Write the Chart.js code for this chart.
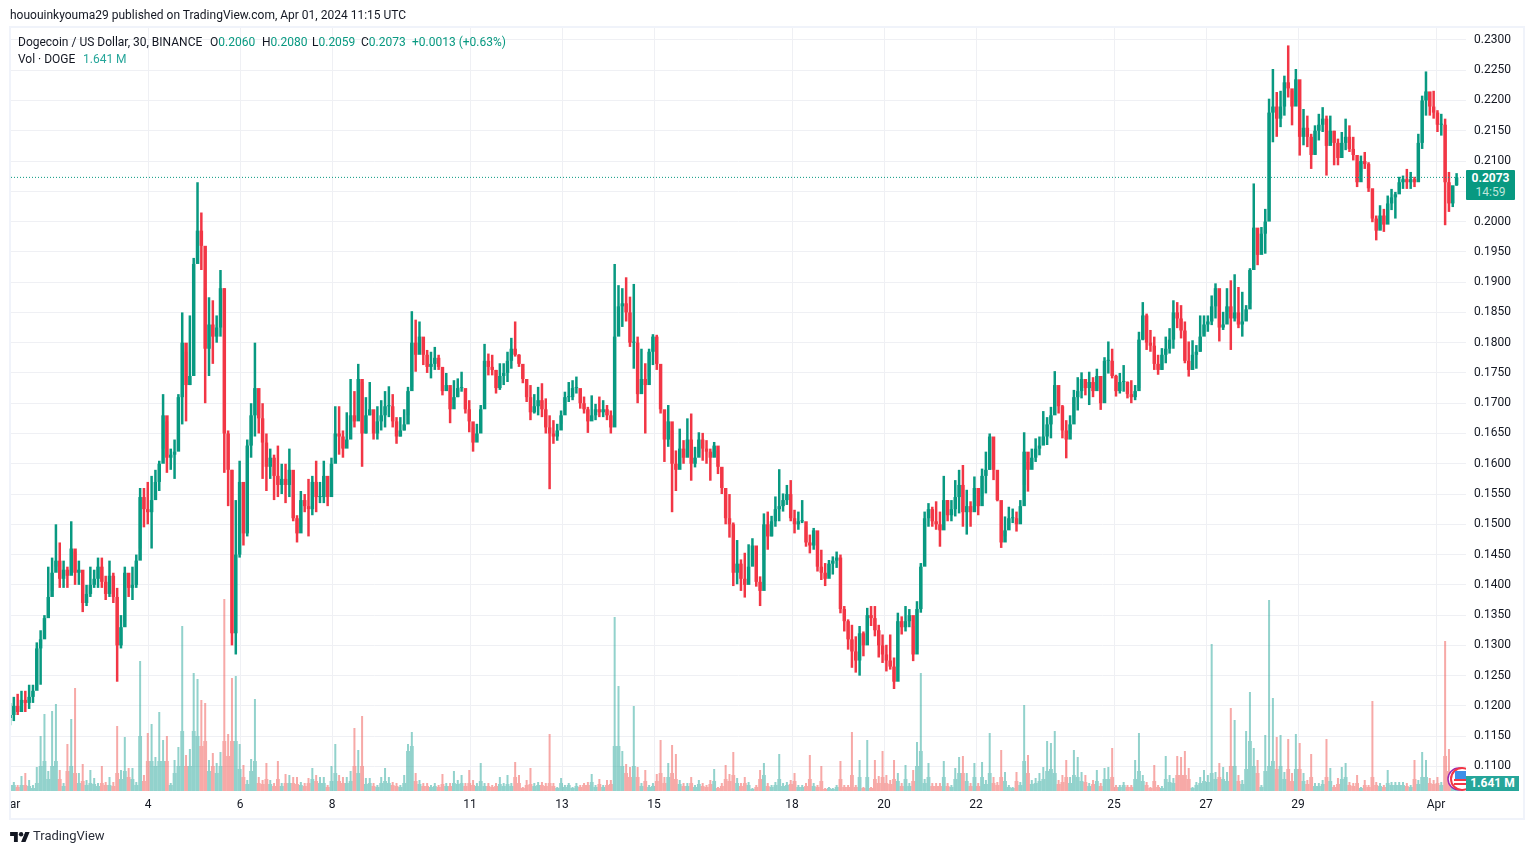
<!DOCTYPE html>
<html><head><meta charset="utf-8"><title>DOGEUSD</title>
<script src="https://cdn.jsdelivr.net/npm/chart.js@4"></script>
<style>
html,body{margin:0;padding:0;background:#fff;width:1534px;height:854px;overflow:hidden}
body{font-family:Roboto,"Noto Sans",sans-serif;font-size:12px;color:#131722;position:relative}
canvas{position:absolute;left:0;top:0}
.t{position:absolute;white-space:pre;line-height:16px;height:16px}
.g{color:#089981}.v{color:#26a69a}
#frame{position:absolute;left:9px;top:26px;width:1516px;height:794px;box-sizing:border-box;border:2px solid #f0f3fa;pointer-events:none}
#tag{position:absolute;left:1466px;top:170px;width:49px;height:30px;background:#089981;border-radius:1px;color:#fff;font-weight:700;text-align:center;line-height:14px;padding-top:1px;box-sizing:border-box}
#tag span{display:block;font-weight:400;color:#bfe6dc}
#vtag{position:absolute;left:1466px;top:776px;width:53px;height:15px;background:#26a69a;color:#fff;font-weight:700;text-align:center;line-height:15px}
</style></head><body>
<canvas id="c" width="1534" height="854"></canvas>
<div id="frame"></div>
<div class="t" style="left:10px;top:7px">hououinkyouma29 published on TradingView.com, Apr 01, 2024 11:15 UTC</div>
<div class="t" style="left:18px;top:34px">Dogecoin / US Dollar, 30, BINANCE</div>
<div class="t" style="left:210px;top:34px">O<span class="g">0.2060</span></div>
<div class="t" style="left:262px;top:34px">H<span class="g">0.2080</span></div>
<div class="t" style="left:312px;top:34px">L<span class="g">0.2059</span></div>
<div class="t" style="left:361px;top:34px">C<span class="g">0.2073</span></div>
<div class="t g" style="left:412px;top:34px">+0.0013 (+0.63%)</div>
<div class="t" style="left:18px;top:51px">Vol · DOGE</div>
<div class="t v" style="left:83px;top:51px">1.641 M</div>
<div id="tag">0.2073<span>14:59</span></div>
<svg style="position:absolute;left:1446px;top:766px" width="20" height="25" viewBox="0 0 20 25">
<circle cx="13" cy="13" r="11" fill="#fff" stroke="#9c27b0" stroke-width="1.5"/>
<circle cx="16" cy="13" r="11" fill="#fff" stroke="#f23645" stroke-width="2"/>
<circle cx="17" cy="13" r="8.5" fill="#fff"/>
<rect x="8" y="13" width="12" height="2" fill="#f23645"/><rect x="8" y="17" width="12" height="2" fill="#f23645"/>
<rect x="9" y="5" width="11" height="8" fill="#3d8fe8"/></svg>
<div id="vtag">1.641 M</div>
<svg style="position:absolute;left:10px;top:831px" width="20" height="11" viewBox="0 0 36 20"><path fill="#131722" d="M14 20H7V9H0V2h14zM28 20h-8l7.5-18h8z"/><circle cx="20" cy="6" r="4" fill="#131722"/></svg>
<div class="t" style="left:33px;top:828px;font-size:13px;color:#2a2e39">TradingView</div>
<script>
// Prices in ten-thousandths of a dollar, one candle per 2 hours from 1 March
const highsE4=[
1205,1215,1220,1225,1225,1235,1235,1305,1325,1350,1430,1445,
1500,1470,1440,1430,1505,1455,1440,1420,1400,1430,1425,1445,
1445,1415,1440,1420,1395,1350,1430,1410,1430,1450,1560,1560,
1570,1580,1590,1605,1715,1670,1625,1640,1715,1850,1785,1845,
1940,2065,2015,1890,1875,1870,1845,1920,1890,1655,1590,1540,
1605,1530,1640,1700,1800,1705,1700,1650,1625,1615,1630,1600,
1600,1625,1550,1515,1555,1550,1575,1580,1605,1570,1605,1565,
1610,1695,1695,1655,1685,1740,1720,1765,1735,1710,1735,1680,
1695,1705,1720,1728,1715,1677,1677,1690,1727,1852,1838,1835,
1805,1788,1785,1793,1780,1750,1750,1725,1738,1741,1752,1719,
1705,1660,1666,1697,1798,1782,1780,1755,1766,1766,1785,1808,
1835,1781,1757,1735,1730,1715,1727,1733,1708,1680,1672,1666,
1688,1719,1735,1738,1744,1722,1711,1694,1713,1699,1711,1705,
1697,1688,1930,1895,1890,1908,1876,1897,1810,1790,1766,1790,
1814,1813,1755,1688,1697,1655,1622,1658,1639,1675,1683,1628,
1652,1651,1639,1625,1636,1622,1594,1547,1550,1503,1474,1442,
1453,1467,1477,1463,1414,1518,1521,1514,1546,1591,1551,1565,
1573,1524,1521,1540,1496,1483,1494,1466,1458,1436,1441,1447,
1455,1450,1365,1343,1334,1315,1332,1323,1362,1365,1365,1334,
1318,1301,1318,1280,1354,1348,1365,1360,1332,1373,1436,1521,
1535,1529,1538,1521,1580,1540,1540,1573,1590,1598,1557,1538,
1579,1554,1592,1620,1650,1617,1568,1524,1513,1529,1526,1521,
1540,1652,1603,1625,1642,1645,1687,1677,1694,1753,1722,1697,
1672,1680,1722,1743,1751,1738,1752,1743,1757,1730,1776,1802,
1790,1747,1750,1763,1736,1738,1730,1818,1867,1848,1821,1810,
1780,1791,1810,1824,1870,1867,1862,1835,1802,1804,1796,1845,
1845,1845,1878,1898,1854,1851,1890,1903,1913,1892,1884,1862,
1923,2063,1955,1991,2021,2203,2252,2214,2216,2241,2291,2216,
2252,2211,2186,2175,2145,2159,2178,2189,2175,2175,2150,2137,
2148,2170,2159,2140,2098,2109,2115,2098,2054,2010,2027,2021,
2043,2054,2049,2074,2076,2087,2082,2074,2145,2208,2248,2214,
2216,2184,2178,2170,2082,2049,2080];
const lowsE4=[
1168,1175,1185,1190,1190,1195,1205,1235,1235,1320,1360,1390,
1430,1395,1395,1395,1425,1400,1400,1355,1365,1380,1395,1395,
1395,1375,1380,1370,1240,1295,1340,1380,1375,1395,1460,1495,
1500,1460,1550,1555,1625,1585,1590,1575,1645,1665,1670,1730,
1780,1950,1920,1700,1745,1765,1800,1810,1585,1530,1300,1285,
1445,1465,1480,1610,1645,1650,1575,1555,1575,1540,1545,1550,
1535,1545,1505,1470,1495,1520,1480,1515,1520,1535,1535,1530,
1550,1605,1615,1610,1630,1645,1660,1700,1595,1650,1680,1640,
1640,1655,1660,1677,1660,1633,1645,1655,1680,1727,1752,1782,
1763,1750,1741,1755,1755,1713,1722,1667,1705,1710,1719,1683,
1652,1620,1638,1666,1733,1746,1746,1716,1722,1730,1735,1757,
1777,1760,1733,1702,1672,1683,1680,1677,1650,1558,1633,1638,
1666,1688,1702,1705,1716,1691,1683,1651,1672,1672,1677,1677,
1672,1650,1677,1821,1826,1835,1793,1757,1700,1730,1650,1744,
1763,1755,1683,1603,1628,1520,1555,1594,1600,1611,1572,1594,
1617,1605,1600,1572,1611,1583,1550,1500,1478,1398,1401,1390,
1379,1401,1452,1397,1365,1441,1458,1480,1496,1505,1521,1532,
1505,1485,1491,1502,1463,1452,1458,1422,1408,1398,1414,1417,
1428,1353,1323,1293,1263,1255,1250,1282,1315,1332,1315,1280,
1271,1257,1260,1228,1265,1318,1323,1330,1274,1293,1354,1461,
1496,1496,1491,1463,1507,1505,1505,1513,1518,1496,1483,1496,
1529,1515,1546,1551,1590,1573,1538,1461,1480,1491,1502,1488,
1515,1565,1554,1595,1603,1614,1631,1631,1642,1694,1683,1642,
1609,1650,1678,1688,1708,1713,1697,1710,1724,1689,1732,1749,
1741,1711,1716,1719,1708,1700,1705,1725,1804,1788,1785,1755,
1747,1755,1766,1782,1790,1824,1807,1766,1744,1755,1757,1785,
1815,1818,1829,1840,1802,1821,1851,1788,1835,1824,1810,1837,
1865,1933,1928,1950,1947,2019,2131,2140,2156,2175,2205,2159,
2197,2109,2126,2123,2087,2112,2134,2148,2076,2131,2093,2093,
2112,2118,2115,2101,2057,2082,2087,2049,1999,1969,1988,1983,
2008,2019,2005,2052,2054,2054,2054,2057,2101,2120,2175,2175,
2170,2148,2142,1994,2016,2024,2059];
const closesE4=[
1185,1200,1190,1210,1205,1215,1225,1295,1310,1345,1380,1420,
1440,1410,1425,1415,1460,1420,1425,1370,1385,1400,1410,1430,
1405,1385,1415,1380,1300,1330,1420,1395,1400,1440,1545,1525,
1520,1540,1570,1600,1680,1610,1615,1620,1710,1800,1730,1745,
1930,1985,1960,1790,1830,1810,1825,1890,1650,1590,1320,1450,
1570,1485,1630,1680,1725,1675,1635,1595,1610,1580,1565,1575,
1565,1590,1510,1485,1540,1530,1525,1570,1545,1545,1580,1545,
1600,1650,1645,1625,1640,1680,1670,1740,1650,1680,1690,1650,
1670,1680,1695,1695,1670,1645,1655,1665,1720,1800,1780,1810,
1780,1760,1765,1775,1760,1720,1730,1690,1710,1725,1725,1690,
1670,1635,1650,1690,1770,1760,1755,1725,1745,1750,1770,1790,
1780,1765,1740,1710,1685,1695,1705,1690,1660,1650,1645,1655,
1680,1710,1710,1725,1725,1700,1690,1670,1680,1690,1685,1690,
1680,1660,1810,1860,1865,1850,1800,1800,1715,1740,1730,1785,
1810,1765,1690,1640,1670,1600,1590,1625,1610,1640,1600,1610,
1640,1625,1620,1610,1630,1595,1560,1510,1500,1420,1435,1410,
1400,1430,1465,1405,1390,1500,1480,1505,1525,1530,1540,1550,
1510,1500,1505,1505,1470,1465,1490,1430,1420,1410,1435,1440,
1445,1360,1340,1310,1290,1275,1320,1300,1350,1345,1325,1300,
1285,1275,1265,1240,1340,1330,1340,1350,1285,1360,1430,1510,
1525,1505,1500,1490,1540,1515,1525,1545,1565,1520,1530,1520,
1560,1530,1580,1590,1645,1590,1540,1470,1490,1510,1510,1500,
1530,1620,1590,1610,1625,1630,1645,1665,1680,1730,1695,1655,
1640,1665,1710,1720,1740,1725,1735,1720,1745,1700,1770,1770,
1745,1720,1735,1735,1715,1710,1720,1805,1845,1800,1795,1765,
1755,1780,1790,1805,1850,1840,1820,1770,1755,1780,1785,1810,
1830,1835,1860,1890,1825,1830,1860,1840,1850,1830,1835,1855,
1920,1990,1945,1980,2000,2180,2190,2170,2190,2230,2220,2190,
2235,2140,2155,2140,2110,2150,2160,2170,2125,2150,2130,2105,
2130,2140,2120,2110,2065,2100,2095,2055,2005,1985,2010,1995,
2030,2040,2045,2065,2070,2065,2070,2065,2130,2200,2215,2190,
2180,2160,2160,2065,2030,2060,2073];
// Peak 30-minute volume within each 2-hour step, millions of DOGE
const volumesPeakM=[
9,9,6,15,18,11,6,24,55,77,20,80,
87,21,8,47,72,103,18,27,11,21,13,8,
25,9,14,9,65,21,54,23,23,9,130,16,
58,67,34,79,51,55,8,31,44,165,36,42,
118,112,91,88,31,38,28,39,192,57,113,115,
47,26,11,32,92,14,11,28,11,8,30,8,
17,16,14,14,9,8,13,23,16,14,14,6,
25,47,16,14,14,20,63,41,75,13,13,8,
6,14,23,14,9,8,6,16,47,59,18,11,
8,8,6,8,6,17,8,8,20,11,16,8,
21,11,8,28,8,8,6,8,14,8,16,8,
29,16,4,11,23,8,9,9,8,57,8,4,
13,6,8,4,8,6,8,9,17,6,12,6,
11,11,174,105,40,27,24,85,24,8,21,6,
8,17,51,14,28,46,37,11,8,8,14,6,
11,8,6,11,22,4,8,26,17,39,13,8,
14,9,3,6,21,28,8,6,9,37,8,9,
11,18,6,6,8,36,8,6,25,3,4,3,
6,30,6,6,59,6,31,4,51,4,31,15,
40,16,11,31,18,8,26,8,21,49,118,12,
28,8,8,8,30,8,6,23,34,35,18,8,
28,8,29,11,58,14,9,41,19,6,4,19,
9,86,36,11,13,18,24,50,48,60,11,16,
31,14,41,34,19,16,8,11,21,8,23,24,
43,6,6,9,6,6,31,58,16,9,4,26,
6,5,35,16,13,35,34,40,23,4,9,14,
21,16,147,19,28,24,19,83,71,16,11,60,
99,43,31,6,56,191,93,54,56,19,52,18,
57,48,18,11,37,8,8,11,52,23,6,13,
24,28,9,8,16,4,11,6,90,9,8,6,
21,9,9,9,9,8,6,31,11,39,31,13,
11,14,9,150,42,18,1.641];
// Typical 30-minute volume within each 2-hour step, millions of DOGE
const volumesTypicalM=[
6,6,4,6,6,5,3,8,25,30,12,25,
30,12,5,20,25,18,8,10,6,8,7,5,
8,6,6,5,18,12,20,14,12,6,55,10,
30,30,25,30,30,30,6,18,25,60,25,25,
60,55,45,50,20,25,18,25,50,35,50,50,
22,14,7,20,30,8,7,12,7,5,12,5,
8,8,8,7,6,5,8,12,10,8,8,4,
10,18,10,8,8,10,25,18,25,7,8,5,
4,8,10,8,6,5,4,8,40,45,10,7,
5,5,4,5,4,7,5,5,8,7,8,5,
8,6,5,10,5,5,4,5,7,5,7,5,
14,8,3,6,7,5,6,6,5,8,5,3,
8,4,6,3,5,4,6,6,9,4,7,4,
6,7,45,45,25,18,14,25,14,5,10,4,
5,10,18,8,14,18,12,7,5,5,8,4,
7,5,4,7,10,3,5,12,10,16,8,5,
8,6,2,4,12,16,5,4,6,12,5,6,
7,10,4,4,5,12,5,4,10,2,3,2,
4,12,4,4,16,4,14,3,14,3,12,8,
14,8,7,12,10,5,12,5,10,25,40,8,
14,5,5,5,14,5,4,12,18,18,10,5,
14,5,14,7,18,8,6,14,10,4,3,10,
6,30,18,7,8,10,12,20,22,18,7,9,
14,8,16,14,10,9,5,7,10,5,12,12,
14,4,4,6,4,4,12,20,10,6,3,10,
4,3,12,9,8,16,16,16,12,3,6,8,
10,9,18,12,14,12,10,25,25,10,7,22,
50,25,18,4,20,25,30,22,25,12,22,10,
22,22,10,7,14,5,5,7,14,10,4,7,
12,14,6,5,8,3,6,4,14,6,5,4,
8,6,6,6,6,5,4,12,7,14,14,8,
7,8,6,35,20,10,1.641];
const firstOpenE4=1180;
const lastPrice=0.2073;
const xTickDays=[0.11,3,5,7,10,12,14,17,19,21,24,26,28,31];
const xTickLabels=["ar","4","6","8","11","13","15","18","20","22","25","27","29","Apr"];
const yTicks=[0.11,0.115,0.12,0.125,0.13,0.135,0.14,0.145,0.15,0.155,0.16,0.165,0.17,0.175,0.18,0.185,0.19,0.195,0.2,0.205,0.21,0.215,0.22,0.225,0.23];

const UP="#089981",DOWN="#f23645",VUP="rgba(38,166,154,0.5)",VDOWN="rgba(239,83,80,0.5)";
const FONT='Roboto,"Noto Sans",sans-serif';
const dayOf=i=>i/12.02;
const opensE4=closesE4.map((c,i)=>i?closesE4[i-1]:firstOpenE4);
const isUp=closesE4.map((c,i)=>c>=opensE4[i]);

new Chart(document.getElementById("c"),{
  type:"bar",
  data:{datasets:[
    {type:"line",order:0,yAxisID:"y",data:[{x:0.0217,y:lastPrice},{x:31.652,y:lastPrice}],
     borderColor:UP,borderWidth:1,borderDash:[1,2],pointRadius:0},
    {order:1,yAxisID:"y",barThickness:3.5,minBarLength:1,grouped:false,
     data:closesE4.map((c,i)=>({x:dayOf(i),y:[Math.min(c,opensE4[i])/1e4,Math.max(c,opensE4[i])/1e4]})),
     backgroundColor:isUp.map(u=>u?UP:DOWN)},
    {order:2,yAxisID:"y",barThickness:2.5,grouped:false,
     data:highsE4.map((h,i)=>({x:dayOf(i),y:[lowsE4[i]/1e4,h/1e4]})),
     backgroundColor:isUp.map(u=>u?UP:DOWN)},
    {order:3,yAxisID:"vol",barThickness:2,grouped:false,
     data:volumesPeakM.map((v,i)=>({x:dayOf(i),y:[volumesTypicalM[i],v]})),
     backgroundColor:isUp.map(u=>u?VUP:VDOWN)},
    {order:4,yAxisID:"vol",barThickness:3.83,grouped:false,
     data:volumesTypicalM.map((v,i)=>({x:dayOf(i),y:[0,v]})),
     backgroundColor:isUp.map(u=>u?VUP:VDOWN)}
  ]},
  options:{
    responsive:false,animation:false,
    layout:{padding:{left:11,top:27,right:9,bottom:35}},
    datasets:{bar:{borderWidth:0,grouped:false,inflateAmount:0}},
    plugins:{legend:{display:false},tooltip:{enabled:false}},
    scales:{
      x:{type:"linear",offset:false,min:0.0217,max:31.652,
        afterBuildTicks:s=>{s.ticks=xTickDays.map(v=>({value:v}))},
        afterFit:s=>{s.height=28},
        border:{display:false},
        grid:{color:c=>c.index===0?"rgba(0,0,0,0)":"#eff0f4",drawTicks:false,offset:false},
        ticks:{autoSkip:false,maxRotation:0,padding:7,color:"#131722",font:{family:FONT,size:12},
          callback:(v,i)=>xTickLabels[i]}},
      y:{type:"linear",position:"right",min:0.10595,max:0.23214,
        afterBuildTicks:s=>{s.ticks=yTicks.map(v=>({value:v}))},
        afterFit:s=>{s.width=59},
        border:{display:false},
        grid:{color:"#eff0f4",drawTicks:false},
        ticks:{padding:8,color:"#131722",font:{family:FONT,size:12},callback:v=>v.toFixed(4)}},
      vol:{type:"linear",display:false,min:0,max:764}
    }
  }
});
</script>
</body></html>
